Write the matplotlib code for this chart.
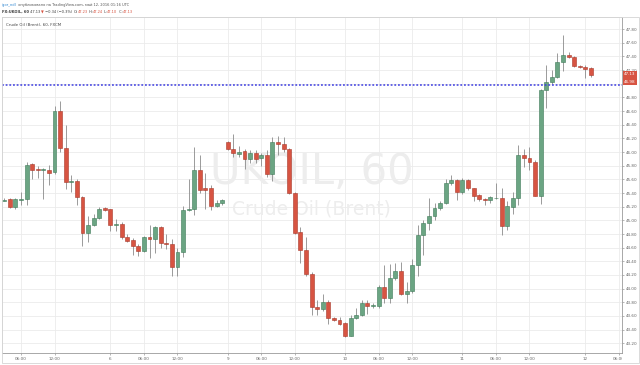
import matplotlib
matplotlib.use('Agg')
import matplotlib.pyplot as plt
import numpy as np
from matplotlib.transforms import Bbox, TransformedBbox, IdentityTransform, blended_transform_factory

# hourly candles, FX:UKOIL 60
opens = [45.29, 45.31, 45.19, 45.30, 45.31, 45.82, 45.75, 45.74, 45.73, 45.71,
         46.60, 46.06, 45.56, 45.58, 45.34, 44.81, 44.93, 45.04, 45.18, 45.16,
         44.93, 44.94, 44.76, 44.71, 44.63, 44.55, 44.76, 44.72, 44.90, 44.67,
         44.65, 44.31, 44.53, 45.15, 45.16, 45.74, 45.47, 45.47, 45.21, 45.25,
         46.15, 46.04, 45.97, 46.02, 45.90, 45.98, 45.91, 45.96, 45.68, 46.14,
         46.12, 46.04, 45.40, 44.83, 44.57, 44.22, 43.73, 43.70, 43.81, 43.57,
         43.54, 43.49, 43.31, 43.57, 43.62, 43.79, 43.74, 43.75, 44.03, 43.87,
         44.15, 44.26, 43.92, 43.96, 44.34, 44.79, 44.96, 45.06, 45.18, 45.26,
         45.55, 45.59, 45.42, 45.59, 45.47, 45.37, 45.31, 45.30, 45.32, 45.33,
         44.92, 45.20, 45.32, 45.96, 45.92, 45.86, 45.35, 46.91, 47.02, 47.10,
         47.32, 47.42, 47.39, 47.26, 47.25, 47.23]
highs = [45.33, 45.32, 45.32, 45.42, 45.86, 45.84, 45.80, 45.76, 45.81, 46.68,
         46.75, 46.39, 45.67, 45.60, 45.36, 45.07, 45.10, 45.19, 45.19, 45.17,
         45.02, 44.97, 44.80, 44.74, 44.66, 44.77, 44.93, 44.92, 44.91, 44.80,
         44.72, 44.59, 45.21, 45.60, 46.08, 45.96, 45.70, 45.52, 45.30, 45.31,
         46.16, 46.27, 46.09, 46.04, 46.03, 46.03, 45.99, 46.03, 46.22, 46.24,
         46.22, 46.06, 45.42, 44.90, 44.76, 44.24, 43.84, 43.92, 43.83, 43.59,
         43.58, 43.51, 43.61, 43.71, 43.83, 43.83, 43.79, 44.06, 44.35, 44.36,
         44.38, 44.39, 44.10, 44.44, 44.93, 45.00, 45.32, 45.26, 45.28, 45.60,
         45.66, 45.60, 45.62, 45.60, 45.48, 45.38, 45.32, 45.36, 45.55, 45.47,
         45.28, 45.42, 46.10, 46.05, 46.07, 45.88, 46.93, 47.27, 47.20, 47.45,
         47.71, 47.47, 47.41, 47.28, 47.27, 47.24]
lows = [45.28, 45.18, 45.17, 45.22, 45.22, 45.61, 45.62, 45.31, 45.52, 45.68,
        46.00, 45.46, 45.41, 45.22, 44.63, 44.69, 44.92, 45.02, 45.14, 44.84,
        44.84, 44.73, 44.68, 44.49, 44.48, 44.53, 44.45, 44.52, 44.59, 44.58,
        44.19, 44.18, 44.46, 45.13, 45.08, 45.40, 45.17, 45.15, 45.19, 45.23,
        46.03, 45.93, 45.93, 45.75, 45.84, 45.84, 45.79, 45.63, 45.58, 45.95,
        46.00, 45.38, 44.80, 44.38, 44.18, 43.61, 43.61, 43.68, 43.48, 43.52,
        43.47, 43.29, 43.30, 43.55, 43.60, 43.63, 43.72, 43.72, 43.79, 43.79,
        44.13, 43.90, 43.79, 43.94, 44.19, 44.49, 44.86, 45.00, 45.15, 45.24,
        45.52, 45.30, 45.38, 45.44, 45.28, 45.28, 45.22, 45.25, 45.31, 44.79,
        44.86, 45.10, 45.22, 45.78, 45.74, 45.35, 45.24, 46.64, 47.00, 47.08,
        47.18, 47.38, 47.25, 47.23, 47.08, 47.10]
closes = [45.30, 45.19, 45.31, 45.31, 45.81, 45.74, 45.74, 45.74, 45.70, 46.60,
          46.06, 45.56, 45.57, 45.34, 44.81, 44.93, 45.04, 45.17, 45.15, 44.93,
          44.94, 44.75, 44.70, 44.63, 44.55, 44.76, 44.72, 44.90, 44.67, 44.65,
          44.31, 44.53, 45.15, 45.16, 45.74, 45.45, 45.45, 45.21, 45.25, 45.30,
          46.04, 45.98, 46.00, 45.90, 45.98, 45.90, 45.96, 45.68, 46.14, 46.12,
          46.04, 45.40, 44.82, 44.56, 44.21, 43.73, 43.70, 43.81, 43.57, 43.54,
          43.48, 43.31, 43.57, 43.62, 43.79, 43.74, 43.76, 44.03, 43.87, 44.15,
          44.26, 43.92, 43.97, 44.34, 44.79, 44.96, 45.06, 45.18, 45.26, 45.55,
          45.59, 45.42, 45.59, 45.47, 45.36, 45.31, 45.30, 45.34, 45.33, 44.92,
          45.21, 45.33, 45.96, 45.92, 45.86, 45.35, 46.91, 47.02, 47.10, 47.32,
          47.42, 47.39, 47.26, 47.24, 47.22, 47.13]

tick_pos = [3, 9, 19, 25, 31, 40, 46, 52, 61, 67, 73, 82, 88, 94, 104, 110]
tick_labels = ['06:00', '12:00', '6', '06:00', '12:00', '9', '06:00', '12:00',
               '10', '06:00', '12:00', '11', '06:00', '12:00', '12', '06:00']
price_ticks = [43.2, 43.4, 43.6, 43.8, 44.0, 44.2, 44.4, 44.6, 44.8, 45.0, 45.2,
               45.4, 45.6, 45.8, 46.0, 46.2, 46.4, 46.6, 46.8, 47.0, 47.2, 47.4,
               47.6, 47.8]
level = 46.98
last_price = 47.13

up, down = '#6ba583', '#d75442'
up_edge, down_edge = '#3f7a58', '#a8382a'

o = np.array(opens); h = np.array(highs); l = np.array(lows); c = np.array(closes)
x = np.arange(len(o))
rising = c >= o

fig = plt.figure(figsize=(6.4, 3.65), dpi=100)
ax = fig.add_axes([2/640, 12/365, 619.7/640, 336/365])

ax.set_xticks(tick_pos)
ax.set_xticklabels(tick_labels)
ax.set_yticks(price_ticks)
ax.set_yticklabels(['%.2f' % v for v in price_ticks])
ax.grid(True, color='#ebebeb', lw=0.6)
ax.set_axisbelow(True)

ax.vlines(x, l, h, color='#8a8a8a', lw=0.6, zorder=2)
ax.bar(x, np.maximum(np.abs(c - o), 0.012), bottom=np.minimum(o, c), width=0.7,
       color=np.where(rising, up, down), edgecolor=np.where(rising, up_edge, down_edge),
       lw=0.4, zorder=3)

ax.axhline(level, color='#3d3de0', lw=1.1, ls=(0, (1.2, 1.2)), zorder=4)

ax.set_xlim(-0.4, 110.5)
ax.set_ylim(43.058, 47.977)

# watermark
ax.text(0.5, 0.54, 'UKOIL, 60', transform=ax.transAxes, ha='center', va='center',
        fontsize=30, color='#ededed', zorder=1)
ax.text(0.5, 0.43, 'Crude Oil (Brent)', transform=ax.transAxes, ha='center', va='center',
        fontsize=13.5, color='#ededed', zorder=1)

ax.yaxis.tick_right()
ax.tick_params(axis='both', labelsize=3.0, labelcolor='#666666', color='#999999',
               length=1.5, width=0.5, pad=1.5)
for s in ['left', 'top']:
    ax.spines[s].set_color('#d0d0d0')
    ax.spines[s].set_linewidth(0.6)
for s in ['right', 'bottom']:
    ax.spines[s].set_color('#9a9a9a')
    ax.spines[s].set_linewidth(0.6)

clip = TransformedBbox(Bbox([[0, 0], [621.7, 365]]), IdentityTransform())
last_lbl = ax.get_xticklabels()[-1]
last_lbl.set_clip_box(clip)
last_lbl.set_clip_on(True)

# price labels on the axis
tr = blended_transform_factory(ax.transAxes, ax.transData)
ax.text(1.004, last_price + 0.01, '%.2f' % last_price, transform=tr, fontsize=3.0,
        color='white', ha='left', va='center', clip_on=False,
        bbox=dict(boxstyle='square,pad=0.35', fc=down, ec='none'))
ax.text(1.004, level + 0.05, '%.2f' % level, transform=tr, fontsize=3.0,
        color='white', ha='left', va='center', clip_on=False,
        bbox=dict(boxstyle='square,pad=0.35', fc=down, ec='none'))

# header lines
renderer = fig.canvas.get_renderer()


def put_line(x0, y0, parts, size):
    xx = x0
    for s, col, wt in parts:
        t = fig.text(xx, y0, s, color=col, fontsize=size, fontweight=wt,
                     ha='left', va='center', transform=None)
        xx += t.get_window_extent(renderer).width


dark = '#3c3c3c'
put_line(2, 365 - 4.7, [('igor_ndl', '#2e86d1', 'normal'),
                        (' опубликовано на TradingView.com, май 12, 2016 01:16 UTC', '#555555', 'normal')], 2.6)
put_line(2, 365 - 12.3, [('FX:UKOIL, 60', dark, 'bold'), (' 47.13 ', dark, 'normal'),
                         ('▼', down, 'normal'), (' −0.34 (−0.3%) ', dark, 'normal'),
                         ('O:', dark, 'normal'), ('47.23', down, 'normal'),
                         (' H:', dark, 'normal'), ('47.24', down, 'normal'),
                         (' L:', dark, 'normal'), ('47.10', down, 'normal'),
                         (' C:', dark, 'normal'), ('47.13', down, 'normal')], 2.6)
fig.text(6, 365 - 25, 'Crude Oil (Brent), 60, FXCM', color='#444444', fontsize=2.9,
         ha='left', va='center', transform=None)

fig.patches.append(plt.Rectangle((1.5, 2), 637, 346.5, transform=None, fill=False,
                                 ec='#d5d5d5', lw=0.6))

fig.savefig('out.png', dpi=100)
